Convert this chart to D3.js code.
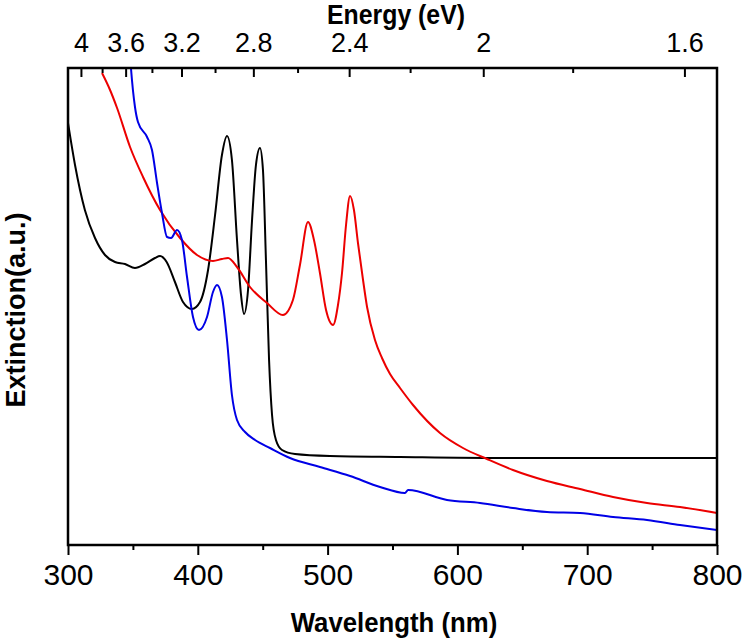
<!DOCTYPE html>
<html>
<head>
<meta charset="utf-8">
<script src="https://cdn.jsdelivr.net/npm/d3@7/dist/d3.min.js"></script>
<style>
  html, body { margin: 0; padding: 0; background: #fff; }
  svg { display: block; }
  text { font-family: "Liberation Sans", Arial, sans-serif; fill: #000; }
</style>
</head>
<body>
<svg id="chart" width="742" height="642"></svg>
<script>
// ---- data (wavelength nm, extinction a.u.) ----
const blackWl = [300, 305.4, 313, 320.8, 328.5, 336.2, 343.9, 351.6, 359.3, 367, 370.9, 376, 382.4, 388.6, 395.5, 401.7, 407.9, 413.3, 418.6, 422.5, 426.3, 430.2, 433.3, 435.6, 438.7, 441.8, 444.8, 447.9, 450.2, 452.5, 454.9, 457.2, 460.2, 464.9, 474.9, 501.8, 555.8, 632.8, 800];
const blackExt = [4.22, 3.80, 3.35, 3.07, 2.90, 2.83, 2.81, 2.77, 2.81, 2.87, 2.89, 2.83, 2.63, 2.43, 2.36, 2.43, 2.75, 3.30, 3.90, 4.09, 3.85, 3.05, 2.50, 2.31, 2.55, 3.25, 3.80, 3.97, 3.75, 2.85, 1.85, 1.30, 1.05, 0.95, 0.91, 0.89, 0.88, 0.87, 0.87];

const redWl = [326.2, 332.4, 337.8, 347.8, 357.8, 370.9, 386.3, 399.4, 411.7, 418.6, 423.3, 430.2, 440.2, 453.3, 465.6, 473.3, 478.7, 484.9, 489.5, 494.1, 498.8, 504.2, 508, 511.1, 514.2, 517.3, 520.3, 523.4, 527.3, 530.4, 536.5, 541.9, 548.1, 555.8, 565.8, 586.6, 604.3, 622.8, 642.8, 669, 694.5, 719.9, 746.1, 771.5, 800];
const redExt = [4.72, 4.55, 4.37, 3.98, 3.68, 3.35, 3.07, 2.90, 2.84, 2.86, 2.87, 2.78, 2.58, 2.42, 2.30, 2.45, 2.80, 3.23, 3.05, 2.72, 2.35, 2.20, 2.40, 2.72, 3.20, 3.49, 3.35, 3.02, 2.65, 2.38, 2.05, 1.87, 1.71, 1.57, 1.40, 1.12, 0.97, 0.86, 0.75, 0.64, 0.56, 0.48, 0.42, 0.38, 0.32];

const blueWl = [347.5, 348.5, 351.6, 353.9, 360.9, 364.7, 368.6, 372.4, 376.3, 379.4, 384, 387.8, 391.7, 396.3, 400.9, 407.1, 411.7, 414.8, 418.6, 422.5, 426.3, 430.2, 436.4, 444.1, 455.6, 471, 494.1, 517.3, 540.4, 559.6, 562, 592, 617.4, 642.8, 669, 694.5, 719.9, 746.1, 771.5, 800];
const blueExt = [4.95, 4.77, 4.38, 4.23, 4.08, 3.95, 3.62, 3.32, 3.08, 3.07, 3.15, 3.05, 2.68, 2.28, 2.15, 2.28, 2.53, 2.60, 2.48, 2.05, 1.50, 1.25, 1.13, 1.05, 0.97, 0.87, 0.78, 0.69, 0.58, 0.52, 0.55, 0.45, 0.42, 0.37, 0.33, 0.32, 0.28, 0.25, 0.20, 0.15];

const wlTicks = [300, 400, 500, 600, 700, 800];
const wlMinor = [350, 450, 550, 650, 750];
const eTicks = [4, 3.6, 3.2, 2.8, 2.4, 2, 1.6];
const eMinor = [3.8, 3.4, 3.0, 2.6, 2.2, 1.8];
const HC = 1239.84;

// ---- layout ----
const svg = d3.select("#chart");
const L = 68, R = 717, T = 68, B = 545;
const x = d3.scaleLinear().domain([300, 800]).range([L, R]);
const y = d3.scaleLinear().domain([0, 4.77]).range([B, T]);

svg.append("defs").append("clipPath").attr("id", "clip")
  .append("rect").attr("x", L).attr("y", T).attr("width", R - L).attr("height", B - T);

const line = d3.line().x(d => x(d[0])).y(d => y(d[1])).curve(d3.curveMonotoneX);
const series = [
  { wl: blackWl, ext: blackExt, color: "#000000" },
  { wl: redWl, ext: redExt, color: "#ec0000" },
  { wl: blueWl, ext: blueExt, color: "#0000e6" }
];
const g = svg.append("g").attr("clip-path", "url(#clip)");
series.forEach(s => {
  g.append("path").datum(s.wl.map((w, i) => [w, s.ext[i]]))
    .attr("d", line).attr("fill", "none")
    .attr("stroke", s.color).attr("stroke-width", 2)
    .attr("stroke-linejoin", "round");
});

// ---- bottom axis ----
const xAxis = d3.axisBottom(x).tickValues(wlTicks).tickSize(10).tickPadding(9).tickFormat(d3.format("d"));
const gx = svg.append("g").attr("transform", `translate(0,${B})`).call(xAxis);
gx.select(".domain").remove();
gx.selectAll(".tick line").attr("stroke", "#000").attr("stroke-width", 2);
gx.selectAll(".tick text").attr("font-size", 30).attr("dy", "0.71em")
  .attr("font-family", "Liberation Sans, Arial, sans-serif");
const xMinor = d3.axisBottom(x).tickValues(wlMinor).tickSize(5).tickFormat("");
const gxm = svg.append("g").attr("transform", `translate(0,${B})`).call(xMinor);
gxm.select(".domain").remove();
gxm.selectAll(".tick line").attr("stroke", "#000").attr("stroke-width", 2);

// ---- top axis (energy) ----
const xE = d3.scaleLinear().domain([300, 800]).range([L, R]);
const topAxis = d3.axisTop(xE).tickValues(eTicks.map(e => HC / e)).tickSize(-9).tickPadding(16)
  .tickFormat((d, i) => String(eTicks[i]));
const gt = svg.append("g").attr("transform", `translate(0,${T})`).call(topAxis);
gt.select(".domain").remove();
gt.selectAll(".tick line").attr("stroke", "#000").attr("stroke-width", 2);
gt.selectAll(".tick text").attr("font-size", 27)
  .attr("font-family", "Liberation Sans, Arial, sans-serif");
const topMinor = d3.axisTop(xE).tickValues(eMinor.map(e => HC / e)).tickSize(-5).tickFormat("");
const gtm = svg.append("g").attr("transform", `translate(0,${T})`).call(topMinor);
gtm.select(".domain").remove();
gtm.selectAll(".tick line").attr("stroke", "#000").attr("stroke-width", 2);

// ---- frame ----
svg.append("rect").attr("x", L).attr("y", T).attr("width", R - L).attr("height", B - T)
  .attr("fill", "none").attr("stroke", "#000").attr("stroke-width", 2.5);

// ---- titles ----
svg.append("text").attr("transform", "translate(394,632) scale(0.92,1)").attr("text-anchor", "middle")
  .attr("font-size", 28).attr("font-weight", "bold").text("Wavelength (nm)");
svg.append("text").attr("transform", "translate(396,24) scale(0.92,1)").attr("text-anchor", "middle")
  .attr("font-size", 27).attr("font-weight", "bold").text("Energy (eV)");
svg.append("text").attr("transform", "translate(25,310) rotate(-90)").attr("text-anchor", "middle")
  .attr("font-size", 27).attr("font-weight", "bold").text("Extinction(a.u.)");
</script>
</body>
</html>
